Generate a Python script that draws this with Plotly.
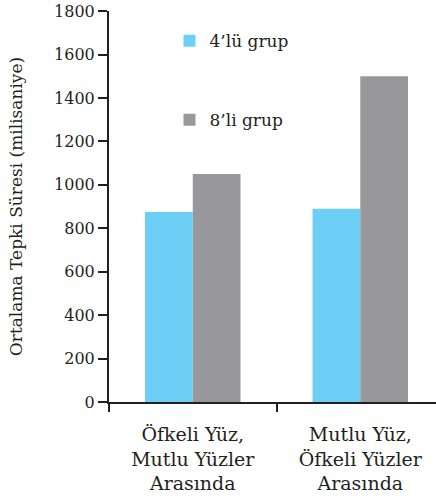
import plotly.graph_objects as go

categories = ["Öfkeli Yüz,<br>Mutlu Yüzler<br>Arasında", "Mutlu Yüz,<br>Öfkeli Yüzler<br>Arasında"]
series_names = ["4’lü grup", "8’li grup"]
values_4 = [875, 890]
values_8 = [1050, 1500]
y_ticks = [0, 200, 400, 600, 800, 1000, 1200, 1400, 1600, 1800]

FONT = "DejaVu Serif"
TXT = "#231f20"

fig = go.Figure()
fig.add_trace(go.Bar(name=series_names[0], x=categories, y=values_4,
                     marker=dict(color="#6dcff6", line=dict(width=0)), legendgroup="a"))
fig.add_trace(go.Bar(name=series_names[1], x=categories, y=values_8,
                     marker=dict(color="#98989c", line=dict(width=0)), legendgroup="b"))

fig.update_layout(
    width=436, height=498,
    margin=dict(l=109, r=0, t=11, b=96),
    paper_bgcolor="white", plot_bgcolor="white",
    barmode="group", bargap=0.43, bargroupgap=0,
    font=dict(family=FONT, size=16, color=TXT),
    showlegend=True,
    legend=dict(x=0.185, y=0.969, xanchor="left", yanchor="top",
                bgcolor="rgba(0,0,0,0)", tracegroupgap=54,
                font=dict(family=FONT, size=17, color=TXT),
                traceorder="grouped"),
    xaxis=dict(range=[-0.5, 1.452], showline=True, linecolor=TXT, linewidth=2,
               ticks="outside", tickson="boundaries", ticklen=8, tickwidth=2, tickcolor=TXT,
               tickfont=dict(family=FONT, size=19, color=TXT), showgrid=False,
               ticklabelstandoff=14, automargin=False),
    yaxis=dict(range=[0, 1800.5], tickvals=y_ticks, showline=True, linecolor=TXT, linewidth=2,
               ticks="outside", ticklen=9, tickwidth=2, tickcolor=TXT, showgrid=False,
               zeroline=False, tickfont=dict(family=FONT, size=16, color=TXT),
               ticklabeloverflow="allow", automargin=False,
               title=dict(text="Ortalama Tepki Süresi (milisaniye)", standoff=27,
                          font=dict(family=FONT, size=17, color=TXT))),
)

fig.write_html("out.html", config={"displayModeBar": False},
               post_script="document.body.style.margin='0px';")
